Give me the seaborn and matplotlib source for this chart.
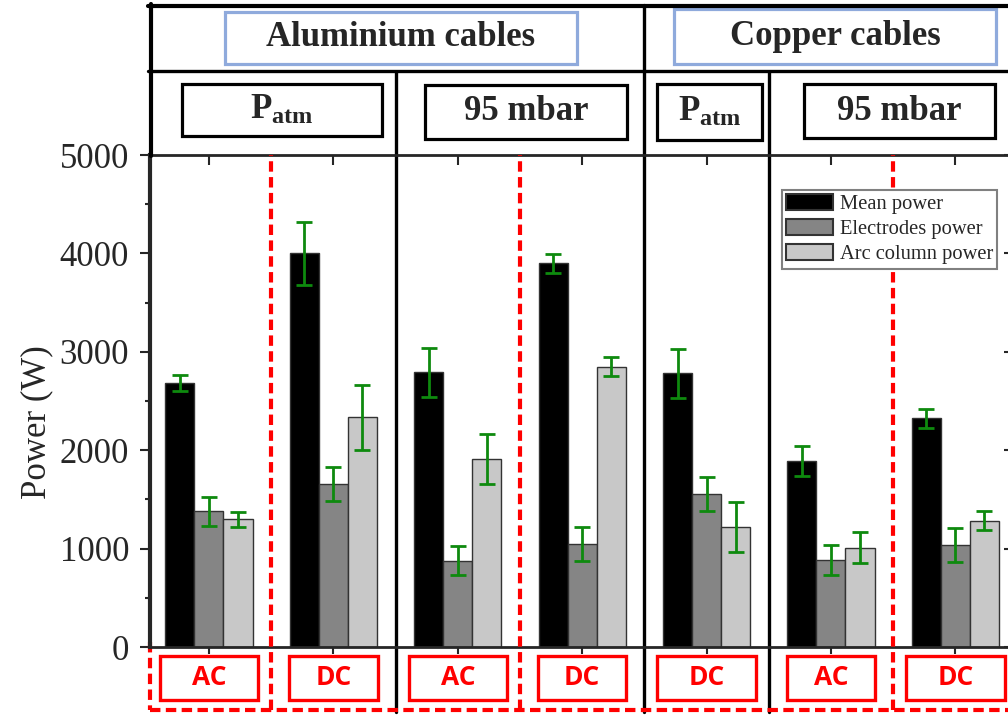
import numpy as np
import pandas as pd
import matplotlib
matplotlib.use("Agg")
import matplotlib.pyplot as plt
import seaborn as sns
from matplotlib.patches import Rectangle
from matplotlib.lines import Line2D
from matplotlib.transforms import blended_transform_factory

# data
groups = ["Al-Patm-AC", "Al-Patm-DC", "Al-95-AC", "Al-95-DC", "Cu-Patm-DC", "Cu-95-AC", "Cu-95-DC"]
material = ["Al", "Al", "Al", "Al", "Cu", "Cu", "Cu"]
pressure = ["Patm", "Patm", "95", "95", "Patm", "95", "95"]
current = ["AC", "DC", "AC", "DC", "DC", "AC", "DC"]

series_names = ["Mean power", "Electrodes power", "Arc column power"]
mean_power = [2680, 4000, 2790, 3900, 2780, 1890, 2325]
mean_err = [80, 320, 245, 97, 250, 157, 97]
electrodes_power = [1380, 1655, 875, 1045, 1555, 885, 1037]
electrodes_err = [148, 175, 148, 173, 175, 150, 172]
arc_power = [1298, 2337, 1911, 2850, 1220, 1009, 1284]
arc_err = [78, 330, 255, 97, 252, 160, 98]
colors = ["#000000", "#858585", "#c8c8c8"]

df = pd.DataFrame({
    "group": groups * 3,
    "series": np.repeat(series_names, len(groups)),
    "power": mean_power + electrodes_power + arc_power,
})

sns.set_style("ticks")
plt.rcParams["font.family"] = ["Liberation Serif", "DejaVu Serif"]
plt.rcParams["mathtext.fontset"] = "custom"
plt.rcParams["mathtext.bf"] = "Liberation Serif:bold"
plt.rcParams["mathtext.rm"] = "Liberation Serif"

W, H = 1008, 715
def fx(x):
    return x / W
def fy(y):
    return 1 - y / H

fig = plt.figure(figsize=(W / 100, H / 100), dpi=100)
ax = fig.add_axes([fx(150), fy(647), (1010 - 150) / W, 492 / H])

sns.barplot(data=df, x="group", y="power", hue="series", order=groups,
            hue_order=series_names, palette=dict(zip(series_names, colors)),
            width=0.7, gap=0, saturation=1, errorbar=None,
            edgecolor="#333333", linewidth=1, ax=ax)

# error bars on top of each bar
for cont, err in zip(ax.containers, [mean_err, electrodes_err, arc_err]):
    xs = [b.get_x() + b.get_width() / 2 for b in cont]
    ys = [b.get_height() for b in cont]
    ax.errorbar(xs, ys, yerr=err, fmt="none", ecolor="#0e8a0e",
                elinewidth=2, capsize=6, capthick=2, zorder=5)

ax.set_xlim(-0.474, 6.439)
ax.set_ylim(0, 5000)
ax.set_yticks(range(0, 5001, 1000))
ax.set_yticks(range(500, 5000, 1000), minor=True)
ax.set_xticks(range(len(groups)))
ax.set_xticklabels([""] * len(groups))
ax.set_xlabel("")
ax.set_ylabel("Power (W)", fontsize=25)
ax.yaxis.set_label_coords(-0.113, 0.457)
ax.tick_params(axis="y", which="major", direction="out", length=7, width=1.5,
               labelsize=25, pad=8)
ax.tick_params(axis="y", which="minor", direction="out", length=3.5, width=1.5)
ax.tick_params(axis="x", direction="out", length=5, width=1.5)
for side in ["top", "right", "bottom"]:
    ax.spines[side].set_visible(True)
    ax.spines[side].set_linewidth(2)
ax.spines["left"].set_linewidth(3)

top = ax.secondary_xaxis("top")
top.set_xticks(range(len(groups)))
top.tick_params(direction="in", length=7, width=1.5, labeltop=False)
right = ax.secondary_yaxis("right")
right.set_yticks(range(0, 5001, 1000))
right.tick_params(direction="in", length=4, width=1.5, labelright=False)

# separators between conditions
for i in range(len(groups) - 1):
    x = i + 0.5
    if material[i] != material[i + 1]:
        ax.axvline(x, ymin=-0.132, ymax=1.305, color="black", lw=2.4, clip_on=False)
    elif pressure[i] != pressure[i + 1]:
        ax.axvline(x, ymin=-0.132, ymax=1.168, color="black", lw=2.4, clip_on=False)
    else:
        ax.axvline(x, ymin=-0.128, ymax=1, color="red", lw=3,
                   ls=(0, (2.5, 1.3)), clip_on=False, zorder=4)

# header frame
fig.add_artist(Line2D([fx(148), fx(1010)], [fy(5.5), fy(5.5)], color="black", lw=3))
fig.add_artist(Line2D([fx(148), fx(1010)], [fy(70.5), fy(70.5)], color="black", lw=2.4))
fig.add_artist(Line2D([fx(150.5), fx(150.5)], [fy(4), fy(156)], color="black", lw=3))

def header_box(x0, y0, x1, y1, text, edge):
    fig.add_artist(Rectangle((fx(x0), fy(y1)), fx(x1) - fx(x0), fy(y0) - fy(y1),
                             transform=fig.transFigure, fill=False, edgecolor=edge, lw=2.3))
    fig.text(fx((x0 + x1) / 2), fy((y0 + y1) / 2), text, ha="center", va="center",
             fontsize=25, fontweight="bold")

header_box(225, 12, 577, 64, "Aluminium cables", "#8faadc")
header_box(674, 9, 996, 64, "Copper cables", "#8faadc")
header_box(182, 84, 382, 136, r"$\mathbf{P_{atm}}$", "black")
header_box(425, 85, 627, 139, "95 mbar", "black")
header_box(657, 84, 762, 140, r"$\mathbf{P_{atm}}$", "black")
header_box(804, 84, 995, 138, "95 mbar", "black")

# AC / DC labels under the bars
trans = blended_transform_factory(ax.transData, ax.transAxes)
for i, lab in enumerate(current):
    w = 0.79 if i % 2 == 0 else 0.71
    ax.add_patch(Rectangle((i - w / 2, -0.108), w, 0.0894, transform=trans,
                           fill=False, edgecolor="red", lw=2.4, clip_on=False))
    ax.text(i, -0.063, lab, transform=trans, ha="center", va="center",
            color="red", fontsize=19, fontweight="bold", family="Open Sans")

# red dashed frame round the labels
ax.plot([0, 1], [-0.128, -0.128], transform=ax.transAxes, color="red", lw=3,
        ls=(0, (2.5, 1.3)), clip_on=False)
ax.plot([0, 0], [0.01, -0.128], transform=ax.transAxes, color="red", lw=3,
        ls=(0, (2.5, 1.3)), clip_on=False)

handles, labels = ax.get_legend_handles_labels()
leg = ax.legend(handles, labels, loc="upper left", bbox_to_anchor=(fx(782), fy(190)),
                bbox_transform=fig.transFigure, borderaxespad=0, fancybox=False,
                framealpha=1, edgecolor="#808080", fontsize=14.8,
                handlelength=2.3, handleheight=0.8, handletextpad=0.3,
                labelspacing=0.25, borderpad=0.2)
leg.get_frame().set_linewidth(1.5)
for h in leg.legend_handles:
    h.set_edgecolor("#333333")
    h.set_linewidth(1.5)

fig.savefig("out.png", dpi=100)
